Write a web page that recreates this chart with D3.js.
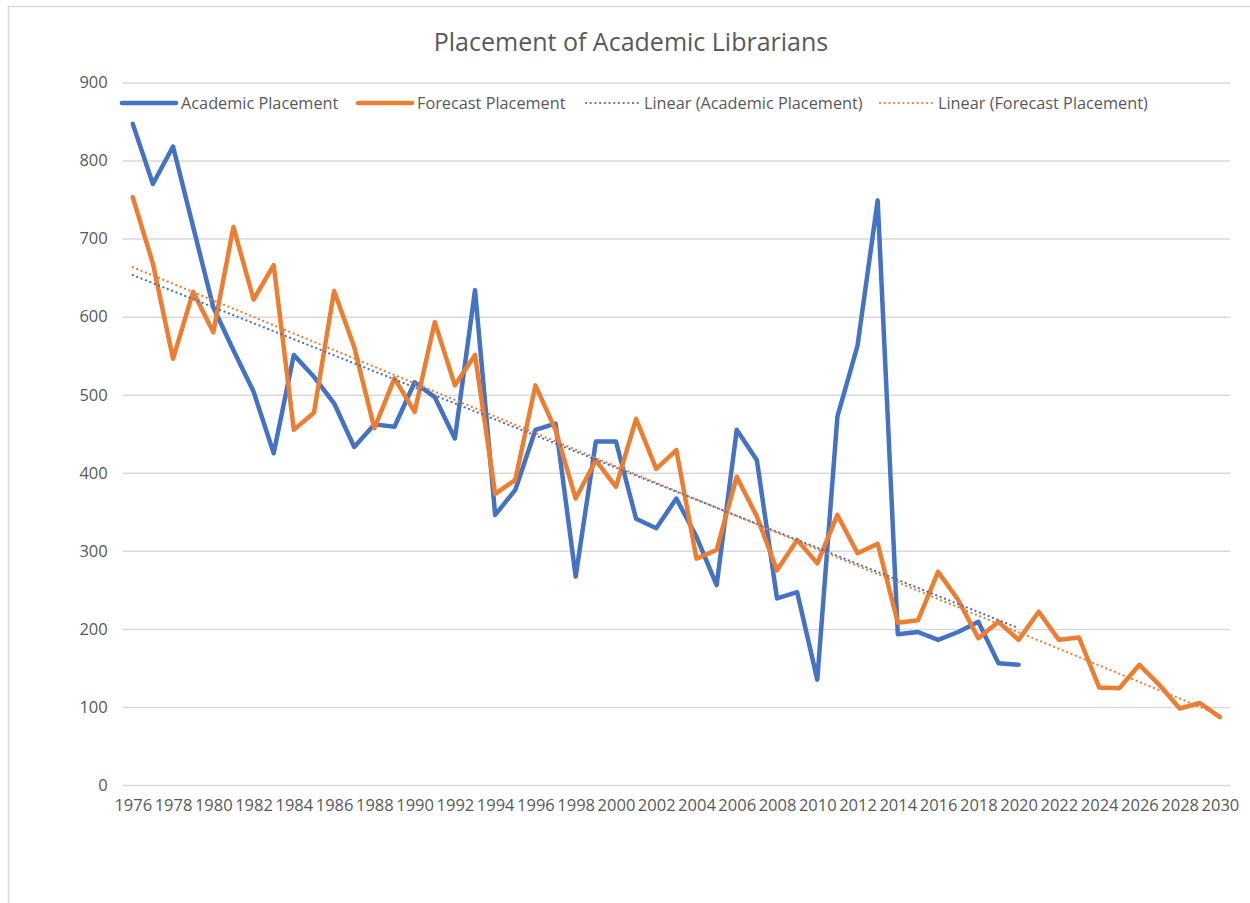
<!DOCTYPE html>
<html>
<head>
<meta charset="utf-8">
<script src="https://cdn.jsdelivr.net/npm/d3@7"></script>
<style>
  body { margin: 0; background: #fff; }
  #chart { width: 1250px; height: 903px; }
  text { font-family: "Open Sans", sans-serif; fill: #595959; }
</style>
</head>
<body>
<div id="chart"></div>
<script>
// data
var years = d3.range(1976, 2031).map(String);
var academic = [847, 770, 818, 715, 612, 557, 504, 425, 551, 523, 489, 433, 462, 459, 516, 497, 444, 634,
  346, 378, 455, 463, 267, 440, 440, 341, 329, 367, 318, 256, 455, 416, 239, 247, 135, 472, 563, 749,
  193, 196, 186, 196, 209, 156, 154];
var forecast = [753, 668, 546, 632, 580, 715, 622, 666, 455, 477, 633, 561, 457, 521, 478, 593, 512, 551,
  373, 391, 512, 455, 367, 416, 382, 469, 405, 429, 290, 301, 395, 344, 275, 314, 284, 346, 297, 309,
  208, 211, 273, 237, 188, 209, 186, 222, 186, 189, 125, 124, 154, 128, 98, 105, 87];
var yTicks = [0, 100, 200, 300, 400, 500, 600, 700, 800, 900];
var xTicks = years.filter(function(d, i) { return i % 2 == 0; });

var width = 1250, height = 903;
var svg = d3.select("#chart").append("svg")
    .attr("width", width)
    .attr("height", height);

// chart border (runs off right/bottom edge like the screenshot)
svg.append("rect")
    .attr("x", 8.5).attr("y", 6.5)
    .attr("width", 1300).attr("height", 950)
    .attr("fill", "none")
    .attr("stroke", "#d9d9d9")
    .attr("stroke-width", 1.5);

var plotLeft = 122.7, plotRight = 1230, plotTop = 82.5, plotBottom = 785;

var x = d3.scalePoint().domain(years).range([plotLeft, plotRight]).padding(0.5);
var y = d3.scaleLinear().domain([0, 900]).range([plotBottom, plotTop]);

svg.append("text")
    .attr("x", 631).attr("y", 51)
    .attr("text-anchor", "middle")
    .style("font-size", "25px")
    .text("Placement of Academic Librarians");

// y axis + gridlines
var yAxis = svg.append("g")
    .attr("transform", "translate(" + plotLeft + ",0)")
    .call(d3.axisLeft(y).tickValues(yTicks).tickSize(-(plotRight - plotLeft)).tickPadding(15));
yAxis.select(".domain").remove();
yAxis.selectAll("line").attr("stroke", "#d9d9d9").attr("stroke-width", 1.5);
yAxis.selectAll("text").style("font-size", "16.5px").style("fill", "#595959");

// x axis labels
var xAxis = svg.append("g")
    .attr("transform", "translate(0," + plotBottom + ")")
    .call(d3.axisBottom(x).tickValues(xTicks).tickSize(0).tickPadding(14));
xAxis.select(".domain").remove();
xAxis.selectAll("text").style("font-size", "16.5px").style("fill", "#595959");

var line = d3.line()
    .x(function(d) { return x(d.year); })
    .y(function(d) { return y(d.value); });

function toPoints(vals) {
  return vals.map(function(v, i) { return { year: years[i], value: v }; });
}

// least squares trend
function trend(vals) {
  var n = vals.length;
  var xs = d3.range(n);
  var mx = d3.mean(xs), my = d3.mean(vals);
  var num = 0, den = 0;
  for (var i = 0; i < n; i++) { num += (xs[i] - mx) * (vals[i] - my); den += (xs[i] - mx) * (xs[i] - mx); }
  var b = num / den, a = my - b * mx;
  return [{ year: years[0], value: a }, { year: years[n - 1], value: a + b * (n - 1) }];
}

var series = [
  { name: "Academic Placement", values: academic, color: "#4472C4" },
  { name: "Forecast Placement", values: forecast, color: "#ED7D31" }
];

series.forEach(function(s) {
  svg.append("path")
      .datum(toPoints(s.values))
      .attr("fill", "none")
      .attr("stroke", s.color)
      .attr("stroke-width", 4.5)
      .attr("stroke-linejoin", "round")
      .attr("stroke-linecap", "round")
      .attr("d", line);
});

series.forEach(function(s) {
  svg.append("path")
      .datum(trend(s.values))
      .attr("fill", "none")
      .attr("stroke", s.color)
      .attr("stroke-width", 2.2)
      .attr("stroke-dasharray", "0.1,4.6")
      .attr("stroke-linecap", "round")
      .attr("d", line);
});

// legend
var legendItems = [
  { label: "Academic Placement", color: "#4472C4", dotted: false, x: 122 },
  { label: "Forecast Placement", color: "#ED7D31", dotted: false, x: 358 },
  { label: "Linear (Academic Placement)", color: "#4472C4", dotted: true, x: 586 },
  { label: "Linear (Forecast Placement)", color: "#ED7D31", dotted: true, x: 880 }
];
var legend = svg.append("g").attr("transform", "translate(0,103)");
legendItems.forEach(function(d) {
  legend.append("line")
      .attr("x1", d.x).attr("x2", d.x + 54)
      .attr("stroke", d.color)
      .attr("stroke-width", d.dotted ? 2.2 : 4.5)
      .attr("stroke-linecap", "round")
      .attr("stroke-dasharray", d.dotted ? "0.1,4.6" : null);
  legend.append("text")
      .attr("x", d.x + (d.dotted ? 58 : 59))
      .attr("dy", "0.35em")
      .style("font-size", "16.3px")
      .text(d.label);
});
</script>
</body>
</html>
